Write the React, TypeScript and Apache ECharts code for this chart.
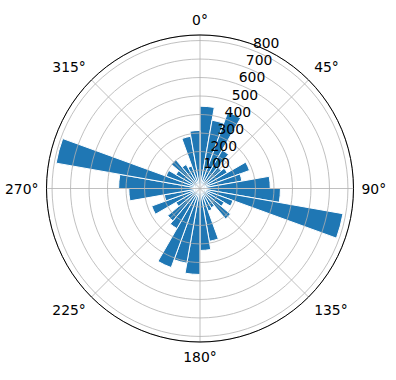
import React, { useEffect, useRef } from 'react';
import * as echarts from 'echarts';

// Bin start angles (degrees, clockwise from north), 10° wide bins
const binStartDeg = [
  0, 10, 20, 30, 40, 50, 60, 70, 80, 90, 100, 110,
  120, 130, 140, 150, 160, 170, 180, 190, 200, 210, 220, 230,
  240, 250, 260, 270, 280, 290, 300, 310, 320, 330, 340, 350,
];
// Bar heights (counts) per bin
const counts = [
  445, 375, 440, 240, 150, 170, 285, 230, 380, 435, 785, 190,
  150, 215, 120, 130, 290, 335, 465, 410, 455, 250, 228, 150,
  278, 196, 385, 440, 790, 195, 150, 203, 150, 130, 287, 314,
];
const binWidthDeg = 10;
const radialTicks = [100, 200, 300, 400, 500, 600, 700, 800];
const angleTicks = [0, 45, 90, 135, 180, 225, 270, 315];
const rMax = 830;

export default function App() {
  const ref = useRef<HTMLDivElement>(null);
  useEffect(() => {
    if (!ref.current) return;
    const chart = echarts.init(ref.current, undefined, { renderer: 'svg' });
    const font = { color: '#000', fontSize: 13.9, fontFamily: 'DejaVu Sans' };
    const center = [200, 188.5];
    const radius = 153.5;
    chart.setOption({
      animation: false,
      backgroundColor: '#fff',
      polar: [
        { center, radius },
        { center, radius },
      ],
      angleAxis: [
        {
          polarIndex: 0,
          type: 'value',
          min: 0,
          max: 360,
          interval: 45,
          startAngle: 90,
          clockwise: true,
          axisLine: { show: true, lineStyle: { color: '#000', width: 1 } },
          axisTick: { show: false },
          axisLabel: {
            ...font,
            margin: 8,
            formatter: (v: number) => (angleTicks.includes(v) ? `${v}°` : ''),
          },
          splitLine: { show: true, lineStyle: { color: '#b0b0b0', width: 0.8 } },
          z: 4,
        },
        {
          polarIndex: 1,
          type: 'value',
          min: 0,
          max: 360,
          startAngle: 67.5,
          clockwise: true,
          show: false,
        },
      ],
      radiusAxis: [
        {
          polarIndex: 0,
          type: 'value',
          min: 0,
          max: rMax,
          interval: 100,
          axisLine: { show: false },
          axisTick: { show: false },
          axisLabel: { show: false },
          splitLine: { show: true, lineStyle: { color: '#b0b0b0', width: 0.8 } },
          z: 3,
        },
        {
          polarIndex: 1,
          type: 'value',
          min: 0,
          max: rMax,
          interval: 100,
          axisLine: { show: false },
          axisTick: { show: false },
          splitLine: { show: false },
          axisLabel: {
            ...font,
            align: 'left',
            verticalAlign: 'bottom',
            margin: 4,
            formatter: (v: number) => (radialTicks.includes(v) ? String(v) : ''),
          },
          z: 5,
        },
      ],
      series: [
        {
          type: 'bar',
          coordinateSystem: 'polar',
          polarIndex: 0,
          barCategoryGap: '0%',
          data: counts.map((c, i) => [c, binStartDeg[i] + binWidthDeg / 2]),
          itemStyle: { color: '#1f77b4', borderColor: '#ffffff', borderWidth: 1 },
          z: 1,
        },
      ],
    });
    return () => chart.dispose();
  }, []);
  return (
    <div
      ref={ref}
      style={{ position: 'fixed', left: 0, top: 0, width: 396, height: 380 }}
    />
  );
}
